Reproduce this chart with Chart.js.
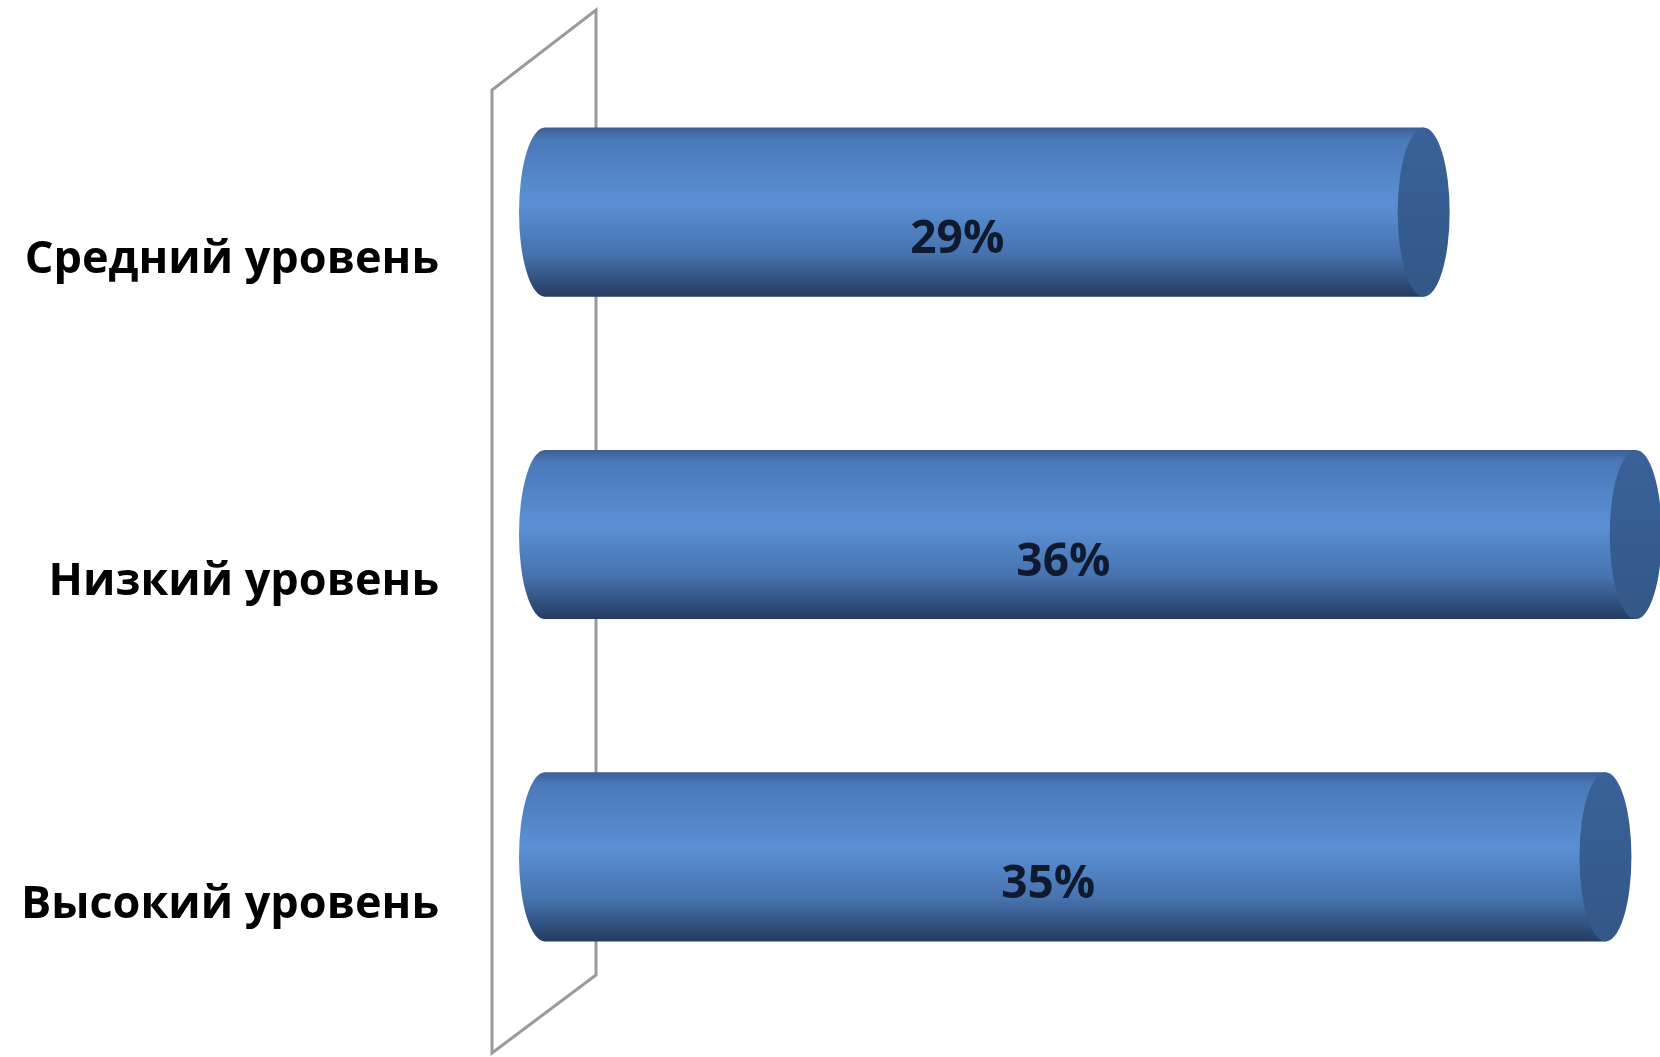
<!DOCTYPE html>
<html>
<head>
<meta charset="utf-8">
<title>Уровни</title>
<script src="https://cdn.jsdelivr.net/npm/chart.js@4.4.0/dist/chart.umd.min.js"></script>
<style>
  html, body { margin: 0; padding: 0; background: #fff; }
  #wrap { width: 1660px; height: 1057px; position: relative; }
</style>
</head>
<body>
<div id="wrap"><canvas id="chart"></canvas></div>
<script>
// categories and their shares, in percent
var levels = ["Средний уровень", "Низкий уровень", "Высокий уровень"];
var shares = [29, 36, 35];
var axisMin = 0;
var axisMax = 36.8;

var labelFont = "bold 46px 'Open Sans', 'Noto Sans', sans-serif";

// slanted back wall behind the bars
var wallPlugin = {
  id: "wall",
  beforeDatasetsDraw: function (chart) {
    var a = chart.chartArea;
    var ctx = chart.ctx;
    ctx.save();
    ctx.strokeStyle = "#9a9a9a";
    ctx.lineWidth = 3;
    ctx.lineJoin = "miter";
    ctx.beginPath();
    ctx.moveTo(a.left - 53, a.bottom + 35);
    ctx.lineTo(a.left - 53, a.top + 39);
    ctx.lineTo(a.left + 51, a.top - 41);
    ctx.lineTo(a.left + 51, a.bottom - 43);
    ctx.closePath();
    ctx.stroke();
    ctx.restore();
  }
};

// draws every bar as a cylinder lying on its side, plus the value label
var cylinderPlugin = {
  id: "cylinders",
  afterDatasetsDraw: function (chart) {
    var ctx = chart.ctx;
    var meta = chart.getDatasetMeta(0);
    var rx = 26;
    meta.data.forEach(function (bar, i) {
      var p = bar.getProps(["x", "y", "base", "height"], true);
      var top = p.y - p.height / 2;
      var bottom = p.y + p.height / 2;
      var ry = p.height / 2;

      var g = ctx.createLinearGradient(0, top, 0, bottom);
      g.addColorStop(0, "#3d5d93");
      g.addColorStop(0.07, "#4a79b9");
      g.addColorStop(0.45, "#5b8fd4");
      g.addColorStop(0.75, "#4672ad");
      g.addColorStop(0.94, "#2c4873");
      g.addColorStop(1, "#243c60");

      ctx.save();
      ctx.beginPath();
      ctx.moveTo(p.base, top);
      ctx.lineTo(p.x, top);
      ctx.lineTo(p.x, bottom);
      ctx.lineTo(p.base, bottom);
      ctx.ellipse(p.base, p.y, rx, ry, 0, Math.PI / 2, Math.PI * 1.5);
      ctx.closePath();
      ctx.fillStyle = g;
      ctx.fill();

      // end cap
      var cap = ctx.createLinearGradient(0, top, 0, bottom);
      cap.addColorStop(0, "#3a6299");
      cap.addColorStop(1, "#335887");
      ctx.beginPath();
      ctx.ellipse(p.x, p.y, rx, ry, 0, 0, Math.PI * 2);
      ctx.fillStyle = cap;
      ctx.fill();

      // value label
      ctx.font = labelFont;
      ctx.fillStyle = "#0f1a30";
      ctx.textAlign = "center";
      ctx.textBaseline = "middle";
      ctx.fillText(shares[i] + "%", (p.base + p.x) / 2 - 27, p.y + 28);
      ctx.restore();
    });
  }
};

new Chart(document.getElementById("chart"), {
  type: "bar",
  data: {
    labels: levels,
    datasets: [{
      data: shares,
      backgroundColor: "rgba(0,0,0,0)",
      borderWidth: 0,
      categoryPercentage: 1,
      barPercentage: 0.525
    }]
  },
  options: {
    indexAxis: "y",
    responsive: true,
    maintainAspectRatio: false,
    animation: false,
    layout: { padding: { top: 51, bottom: 39, left: 0, right: 0 } },
    plugins: {
      legend: { display: false },
      tooltip: { enabled: false }
    },
    scales: {
      x: { display: false, min: axisMin, max: axisMax },
      y: {
        grid: { display: false, drawTicks: false },
        border: { display: false },
        ticks: {
          padding: 106,
          labelOffset: 48,
          color: "#000",
          font: { family: "'Open Sans', 'Noto Sans', sans-serif", size: 45, weight: "bold" }
        },
        afterFit: function (scale) {
          scale.width = 545;
          // the large tick padding should not push the plot area inwards
          scale.paddingTop = 0;
          scale.paddingBottom = 0;
        }
      }
    }
  },
  plugins: [wallPlugin, cylinderPlugin]
});
</script>
</body>
</html>
